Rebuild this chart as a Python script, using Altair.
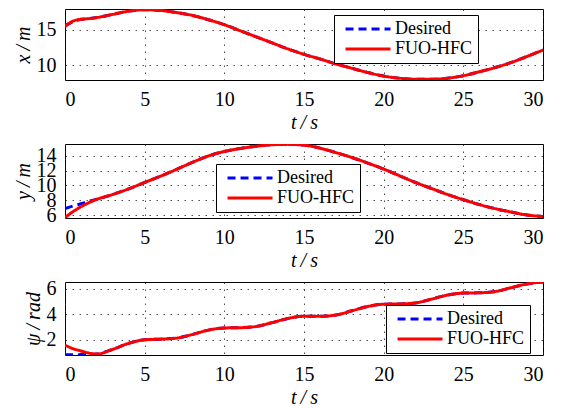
import altair as alt
import pandas as pd

# time samples (s)
t = [0, 0.5, 1, 1.5, 2, 3, 4, 5, 6, 7, 8, 9, 10, 11, 12, 13, 14, 15,
     16, 17, 18, 19, 20, 21, 22, 23, 24, 25, 26, 27, 28, 29, 30]

# x / m
x_desired = [15.55, 16.1, 16.45, 16.55, 16.7, 17.15, 17.6, 17.8, 17.7, 17.4, 17.0, 16.4, 15.7,
             14.85, 14.0, 13.15, 12.3, 11.55, 10.9, 10.2, 9.6, 9.0, 8.5, 8.2, 8.05, 8.05,
             8.2, 8.55, 9.1, 9.7, 10.4, 11.25, 12.15]
x_actual = [15.45, 16.2, 16.45, 16.55, 16.7, 17.15, 17.6, 17.8, 17.7, 17.4, 17.0, 16.4, 15.7,
            14.85, 14.0, 13.15, 12.3, 11.55, 10.9, 10.2, 9.6, 9.0, 8.5, 8.2, 8.05, 8.05,
            8.2, 8.55, 9.1, 9.7, 10.4, 11.25, 12.15]

# y / m
y_desired = [6.9, 7.25, 7.55, 7.9, 8.15, 8.8, 9.55, 10.4, 11.25, 12.15, 13.1, 13.95, 14.55,
             14.95, 15.25, 15.45, 15.5, 15.4, 15.0, 14.4, 13.75, 13.0, 12.2, 11.3, 10.4, 9.6,
             8.8, 8.1, 7.45, 6.9, 6.45, 6.05, 5.85]
y_actual = [5.7, 6.5, 7.15, 7.7, 8.15, 8.8, 9.55, 10.4, 11.25, 12.15, 13.1, 13.95, 14.55,
            14.95, 15.25, 15.45, 15.5, 15.4, 15.0, 14.4, 13.75, 13.0, 12.2, 11.3, 10.4, 9.6,
            8.8, 8.1, 7.45, 6.9, 6.45, 6.05, 5.85]

# psi / rad
psi_desired = [0.82, 0.82, 0.83, 0.85, 0.88, 1.25, 1.72, 2.0, 2.05, 2.13, 2.42, 2.76, 2.93,
               2.95, 3.05, 3.35, 3.68, 3.86, 3.85, 3.95, 4.28, 4.62, 4.8, 4.82, 4.9, 5.2,
               5.52, 5.68, 5.7, 5.8, 6.1, 6.4, 6.55]
psi_actual = [1.58, 1.3, 1.12, 0.95, 0.87, 1.25, 1.72, 2.0, 2.05, 2.13, 2.42, 2.76, 2.93,
              2.95, 3.05, 3.35, 3.68, 3.86, 3.85, 3.95, 4.28, 4.62, 4.8, 4.82, 4.9, 5.2,
              5.52, 5.68, 5.7, 5.8, 6.1, 6.4, 6.55]

series_names = ["Desired", "FUO-HFC"]
x_ticks = [0, 5, 10, 15, 20, 25, 30]

SERIF = "Liberation Serif, Times New Roman, serif"


def axis(values, title):
    return alt.Axis(values=values, title=title, format="d", labelOverlap=False,
                    labelFont=SERIF, labelFontSize=20, labelColor="black",
                    titleFont=SERIF, titleFontSize=20, titleFontStyle="italic",
                    titleFontWeight="normal", titleColor="black")


def panel(des, act, ytitle, ydomain, yticks, height, lx, ly):
    n = len(t)
    df = pd.DataFrame({
        "t": t + t,
        "v": des + act,
        "series": [series_names[0]] * n + [series_names[1]] * n,
    })
    legend = alt.Legend(
        title=None, orient="none", legendX=lx, legendY=ly,
        symbolType="M-0.33,0H5.67", symbolSize=225, symbolStrokeWidth=3,
        labelFont=SERIF, labelFontSize=18, labelColor="black", labelOffset=38,
        labelExpr="datum.label + '\u2002\u2002\u200a'",
        strokeColor="black", fillColor="white", padding=5, rowPadding=2,
        cornerRadius=0,
    )
    base = alt.Chart(df).mark_line(strokeWidth=3, interpolate="monotone", clip=True).encode(
        x=alt.X("t:Q", scale=alt.Scale(domain=[0, 30], nice=False, zero=False),
                axis=axis(x_ticks, "t\u2009/\u2009s")),
        y=alt.Y("v:Q", scale=alt.Scale(domain=ydomain, nice=False, zero=False),
                axis=axis(yticks, ytitle)),
        color=alt.Color("series:N",
                        scale=alt.Scale(domain=series_names, range=["#0000ff", "#ff0000"]),
                        legend=legend),
        strokeDash=alt.StrokeDash("series:N",
                                  scale=alt.Scale(domain=series_names, range=[[8, 5], [1, 0]]),
                                  legend=legend),
    )
    blue = base.transform_filter(alt.datum.series == series_names[0])
    red = base.transform_filter(alt.datum.series == series_names[1])
    return alt.layer(blue, red).properties(width=478, height=height)


p1 = panel(x_desired, x_actual, "x\u2009/\u2009m", [7.95, 17.9], [10, 15], 71, 269, 6)
p2 = panel(y_desired, y_actual, "y\u2009/\u2009m", [5.65, 15.55], [6, 8, 10, 12, 14], 74, 151, 20)
p3 = panel(psi_desired, psi_actual, "\u03c8\u2009/\u2009rad", [0.8, 6.55], [2, 4, 6], 73, 321, 23)

chart = alt.vconcat(p1, p2, p3, spacing=64, bounds="flush").resolve_scale(
    x="independent", y="independent", color="independent", strokeDash="independent"
).resolve_legend(
    color="independent", strokeDash="independent"
).properties(
    padding={"left": 4, "top": 0, "right": 5, "bottom": 0}
).configure_view(
    stroke="black", strokeWidth=1
).configure_axis(
    domain=False, ticks=False,
    grid=True, gridColor="#222222", gridDash=[1.5, 5.5], gridWidth=1, gridOpacity=0.8,
    labelPadding=9, titlePadding=3,
)

chart.save("out.html", embed_options={"renderer": "svg", "actions": False})
